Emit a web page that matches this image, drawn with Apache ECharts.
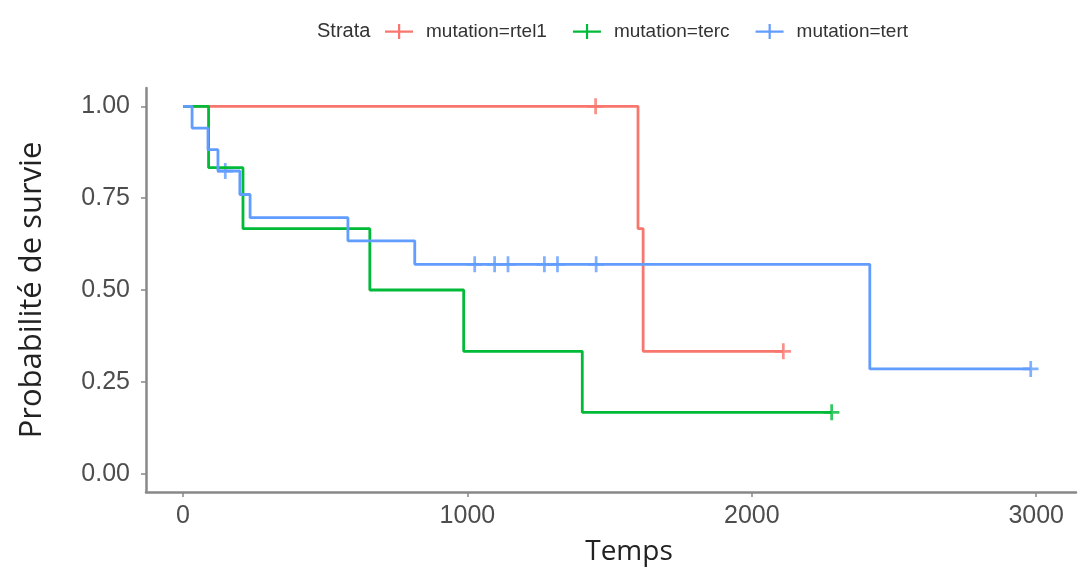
<!DOCTYPE html>
<html>
<head>
<meta charset="utf-8">
<script src="https://cdn.jsdelivr.net/npm/echarts@6/dist/echarts.min.js"></script>
<style>
  html, body { margin: 0; padding: 0; background: #fff; }
  #chart { width: 1080px; height: 571px; }
</style>
</head>
<body>
<div id="chart"></div>
<script>
// strata names and colours
const strata = ['mutation=rtel1', 'mutation=terc', 'mutation=tert']
const colors = ['#F8766D', '#00BA38', '#619CFF']

// Kaplan-Meier steps: [time, survival after the event]
const rtel1Steps = [[0, 1], [1600, 0.667], [1618, 0.333], [2110, 0.333]]
const tercSteps = [[0, 1], [90, 0.833], [211, 0.667], [657, 0.5], [987, 0.333], [1404, 0.167], [2280, 0.167]]
const tertSteps = [[0, 1], [32, 0.941], [88, 0.882], [123, 0.824], [200, 0.76], [236, 0.697], [580, 0.634], [815, 0.57], [2415, 0.285], [2980, 0.285]]

// censored observations
const rtel1Censor = [[1450, 1], [2110, 0.333]]
const tercCensor = [[2280, 0.167]]
const tertCensor = [[148, 0.824], [1025, 0.57], [1095, 0.57], [1142, 0.57], [1270, 0.57], [1316, 0.57], [1452, 0.57], [2980, 0.285]]

const xTicks = [0, 1000, 2000, 3000]
const yTicks = [0, 0.25, 0.5, 0.75, 1]

const plusIcon = 'path://M0,6.5h28v2.2h-28zM13,0h2.2v15h-2.2z'
const censorIcon = 'path://M6,0h2.4v14h-2.4zM0,5.8h14v2.4h-14z'
const tickFont = 'Liberation Sans, Arial, sans-serif'

function stepSeries(name, data, color) {
  return {
    name: name,
    type: 'line',
    step: 'end',
    data: data,
    showSymbol: false,
    lineStyle: { color: color, width: 2.8 },
    itemStyle: { color: color },
    animation: false
  }
}

function censorSeries(name, data, color) {
  return {
    name: name,
    type: 'scatter',
    data: data,
    symbol: censorIcon,
    symbolSize: 16,
    itemStyle: { color: color },
    animation: false
  }
}

const option = {
  backgroundColor: '#fff',
  title: {
    text: 'Strata',
    left: 312,
    top: 16,
    textStyle: { fontFamily: tickFont, fontSize: 20, fontWeight: 'normal', color: '#333' }
  },
  legend: {
    data: strata.map(s => ({ name: s, icon: plusIcon })),
    left: 380,
    top: 17,
    itemWidth: 28,
    itemHeight: 15,
    itemGap: 26,
    textStyle: { fontFamily: tickFont, fontSize: 19, color: '#333', padding: [0, 0, 0, 8] }
  },
  grid: {
    left: 146,
    right: 4,
    top: 88,
    bottom: 78
  },
  xAxis: {
    type: 'value',
    min: -130,
    max: 3140,
    name: 'Temps',
    nameLocation: 'middle',
    nameGap: 46,
    nameTextStyle: { fontFamily: 'Open Sans', fontSize: 28, color: '#222', padding: [0, 0, 0, 36] },
    axisLine: { onZero: false, lineStyle: { color: '#888', width: 2.5 } },
    axisTick: { show: true, length: 5, lineStyle: { color: '#888', width: 1.5 }, customValues: xTicks },
    axisLabel: {
      customValues: xTicks,
      margin: 12,
      fontFamily: tickFont,
      fontSize: 25,
      color: '#4d4d4d',
      formatter: v => String(v)
    },
    splitLine: { show: false }
  },
  yAxis: {
    type: 'value',
    min: -0.05,
    max: 1.05,
    name: 'Probabilité de survie',
    nameLocation: 'middle',
    nameGap: 98,
    nameTextStyle: { fontFamily: 'Open Sans', fontSize: 31, color: '#222' },
    axisLine: { show: true, onZero: false, lineStyle: { color: '#888', width: 2.5 } },
    axisTick: { show: true, length: 5, lineStyle: { color: '#888', width: 1.5 }, customValues: yTicks },
    axisLabel: {
      customValues: yTicks,
      margin: 16,
      fontFamily: tickFont,
      fontSize: 25,
      color: '#4d4d4d',
      formatter: v => v.toFixed(2)
    },
    splitLine: { show: false }
  },
  series: [
    stepSeries(strata[0], rtel1Steps, colors[0]),
    stepSeries(strata[1], tercSteps, colors[1]),
    stepSeries(strata[2], tertSteps, colors[2]),
    censorSeries(strata[0], rtel1Censor, colors[0]),
    censorSeries(strata[1], tercCensor, colors[1]),
    censorSeries(strata[2], tertCensor, colors[2])
  ]
}

const chart = echarts.init(document.getElementById('chart'), null, { renderer: 'canvas' })
chart.setOption(option)
</script>
</body>
</html>
